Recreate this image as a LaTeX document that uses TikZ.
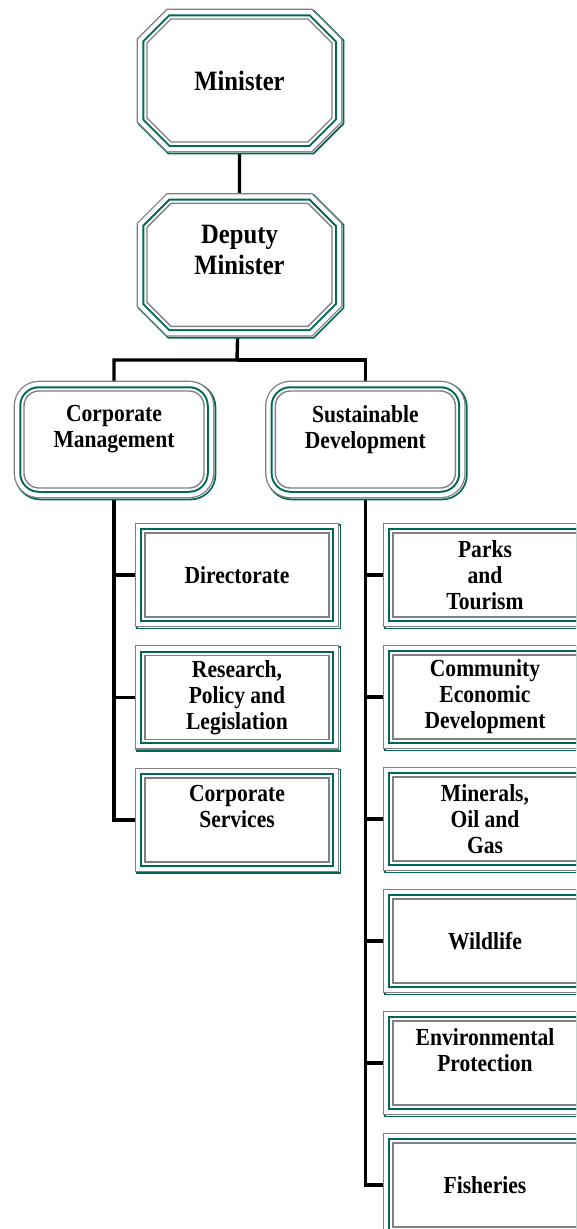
\documentclass[tikz,border=0pt]{standalone}
\usepackage{fontspec}
\setmainfont{Liberation Serif}[FakeStretch=0.88]
\usetikzlibrary{positioning, shapes.misc, backgrounds}
\definecolor{frameteal}{RGB}{0,105,85}
\definecolor{framegray}{RGB}{128,128,128}

\begin{document}
\begin{tikzpicture}[x=1pt, y=-1pt]
	\tikzstyle{Frame} = [fill=white, draw=framegray, line width=1.4pt, align=center, text centered,
		preaction={draw=frameteal, line width=1.8pt, double=white, double distance=18pt, transform canvas={shift={(1.5pt,-1.5pt)}}},
		preaction={draw=framegray, line width=1.3pt, double=white, double distance=18pt},
		preaction={draw=frameteal, line width=2pt, double=white, double distance=5.5pt}]
	\tikzstyle{Head} = [Frame, shape=chamfered rectangle, chamfered rectangle xsep=12pt, chamfered rectangle ysep=12pt, minimum width=185pt, minimum height=123pt, font=\bfseries\fontsize{28}{31}\selectfont]
	\tikzstyle{Branch} = [Frame, rectangle, rounded corners=15pt, minimum width=180pt, minimum height=97pt, font=\bfseries\fontsize{24.5}{26}\selectfont]
	\tikzstyle{Unit} = [Frame, rectangle, minimum width=184pt, minimum height=84pt, font=\bfseries\fontsize{24.5}{26}\selectfont]
	\tikzstyle{link} = [line width=3.4pt, black]
	
	\useasboundingbox (0,0) rectangle (576,1229);
	\clip (0,0) rectangle (576,1229);
	
	\node (minister) [Head] at (239.5,80.5) {Minister};
	\node (deputy) [Head, below = 60pt of minister] {Deputy\\ Minister\\ \vphantom{M}};
	
	\node (corp) [Branch] at (114,439.5) {Corporate\\ Management\\ \vphantom{M}};
	\node (sust) [Branch, right = 70pt of corp] {Sustainable\\ Development\\ \vphantom{M}};
	
	\node (directorate) [Unit] at (237,575) {Directorate};
	\node (research) [Unit, below = 37pt of directorate] {Research,\\ Policy and\\ Legislation};
	\node (corpServices) [Unit, below = 37pt of research] {Corporate\\ Services\\ \vphantom{M}};
	
	\node (parks) [Unit] at (485,575) {Parks\\ and\\ Tourism};
	\node (community) [Unit, below = 36.6pt of parks] {Community\\ Economic\\ Development};
	\node (minerals) [Unit, below = 36.6pt of community] {Minerals,\\ Oil and\\ Gas};
	\node (wildlife) [Unit, below = 36.6pt of minerals] {Wildlife};
	\node (environment) [Unit, below = 36.6pt of wildlife] {Environmental\\ Protection\\ \vphantom{M}};
	\node (fisheries) [Unit, below = 36.6pt of environment] {Fisheries};
	
	\coordinate (split) at (237,360);
	
	\begin{scope}[on background layer]
		\draw[link] (minister) -- (deputy);
		\draw[link] (deputy) -- (split) -| (corp);
		\draw[link] (split) -| (sust);
		\foreach \unit in {directorate, research, corpServices}
			\draw[link] (corp) |- (\unit);
		\foreach \unit in {parks, community, minerals, wildlife, environment, fisheries}
			\draw[link] (sust) |- (\unit);
	\end{scope}
\end{tikzpicture}
\end{document}
